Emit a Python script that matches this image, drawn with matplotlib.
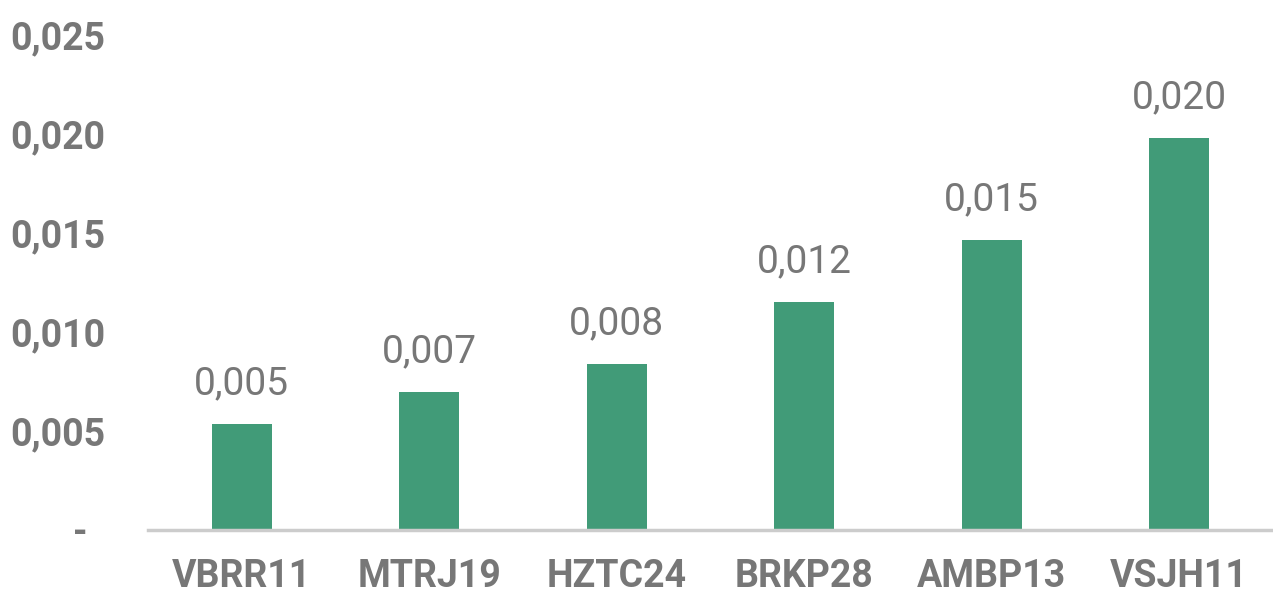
import matplotlib.pyplot as plt
from matplotlib.transforms import ScaledTranslation

plt.rcParams['font.family'] = ['Roboto', 'DejaVu Sans']

ativos = ['VBRR11', 'MTRJ19', 'HZTC24', 'BRKP28', 'AMBP13', 'VSJH11']
valores = [0.00535, 0.00697, 0.00838, 0.01152, 0.01465, 0.0198]
yticks = [0, 0.005, 0.010, 0.015, 0.020, 0.025]

cinza = '#777777'
verde = '#419b78'

fig = plt.figure(figsize=(12.73, 5.91), dpi=100)
ax = fig.add_axes([148/1273, 61/591, 1 - 148/1273, 495/591])

x = range(len(ativos))
ax.bar(x, valores, width=0.32, color=verde, zorder=2)

for i, v in enumerate(valores):
    ax.annotate(f'{v:.3f}'.replace('.', ','), (i, v), xytext=(0, 29),
                textcoords='offset points', ha='center', va='center',
                fontsize=28, color=cinza)

ax.set_xlim(-0.5, len(ativos) - 0.5)
ax.set_ylim(0, 0.025)
ax.set_xticks(list(x))
ax.set_xticklabels(ativos, fontsize=27, fontweight='bold', color=cinza)
ax.set_yticks(yticks)
ax.set_yticklabels(['-'] + [f'{t:.3f}'.replace('.', ',') for t in yticks[1:]],
                   fontsize=27, fontweight='bold', color=cinza)
ax.tick_params(axis='both', length=0)
ax.tick_params(axis='y', pad=31)
ax.tick_params(axis='x', pad=20)

# o traco do zero fica um pouco mais pra esquerda
lbl = ax.get_yticklabels()[0]
lbl.set_transform(lbl.get_transform() + ScaledTranslation(-0.17, 0, fig.dpi_scale_trans))

for s in ['top', 'right', 'left']:
    ax.spines[s].set_visible(False)
ax.spines['bottom'].set_color('#cccccc')
ax.spines['bottom'].set_linewidth(2.5)
ax.spines['bottom'].set_zorder(3)

fig.savefig('out.png', dpi=100)
